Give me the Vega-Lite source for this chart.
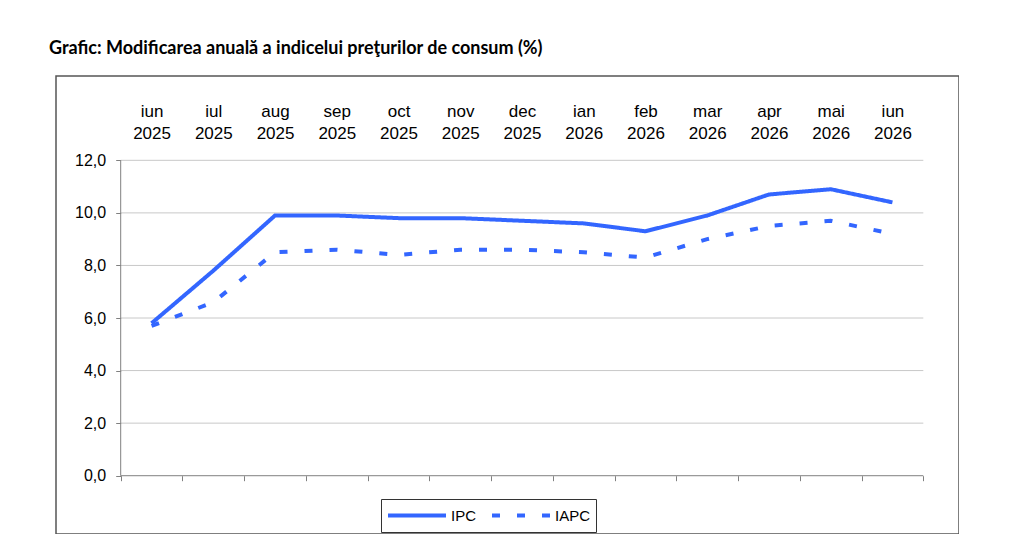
{
  "$schema": "https://vega.github.io/schema/vega-lite/v6.json",
  "width": 903,
  "height": 458,
  "autosize": {"type": "none"},
  "padding": {"left": 56, "top": 76, "right": 0, "bottom": 0},
  "background": "white",
  "config": {
    "view": {"stroke": "#555555", "strokeWidth": 1.5},
    "font": "Liberation Sans",
    "axis": {"labelFont": "Liberation Sans", "labelFontSize": 16, "labelColor": "black", "title": null, "grid": false}
  },
  "title": {
    "text": "Grafic: Modificarea anuală a indicelui preţurilor de consum (%)",
    "anchor": "start",
    "frame": "group",
    "font": "Lato",
    "fontSize": 18,
    "fontWeight": "bold",
    "color": "black",
    "dx": -7,
    "baseline": "alphabetic",
    "offset": 4
  },
  "layer": [
    {
      "data": {"values": [{"g": 0}, {"g": 2}, {"g": 4}, {"g": 6}, {"g": 8}, {"g": 10}, {"g": 12}]},
      "mark": {"type": "rule", "strokeWidth": 1},
      "encoding": {
        "y": {
          "field": "g", "type": "quantitative",
          "scale": {"domain": [-2.218, 15.208], "nice": false, "zero": false},
          "axis": {
            "orient": "left", "values": [0, 2, 4, 6, 8, 10, 12], "offset": -64.7,
            "domain": false, "ticks": true, "tickSize": 5, "tickColor": "#808080",
            "labelPadding": 10, "labelExpr": "replace(format(datum.value, '.1f'), '.', ',')"
          }
        },
        "x": {
          "datum": -0.5, "type": "quantitative",
          "scale": {"domain": [-1.548, 13.078], "nice": false, "zero": false},
          "axis": {
            "orient": "bottom", "values": [-0.5, 0.5, 1.5, 2.5, 3.5, 4.5, 5.5, 6.5, 7.5, 8.5, 9.5, 10.5, 11.5, 12.5],
            "offset": -58.3, "domain": false, "labels": false, "ticks": true, "tickSize": 5, "tickColor": "#808080"
          }
        },
        "x2": {"datum": 12.5},
        "color": {"condition": {"test": "datum.g === 0", "value": "#808080"}, "value": "#c8c8c8"}
      }
    },
    {
      "data": {"values": [{}]},
      "mark": {"type": "rule", "color": "#808080", "strokeWidth": 1},
      "encoding": {
        "x": {"datum": -0.5, "type": "quantitative", "scale": {"domain": [-1.548, 13.078], "nice": false, "zero": false}, "axis": null},
        "y": {"datum": 0, "type": "quantitative", "scale": {"domain": [-2.218, 15.208], "nice": false, "zero": false}, "axis": null},
        "y2": {"datum": 12}
      }
    },
    {
      "data": {
        "values": [
          {"luna": "iun 2025", "i": 0, "serie": "IPC", "v": 5.8},
          {"luna": "iul 2025", "i": 1, "serie": "IPC", "v": 7.8},
          {"luna": "aug 2025", "i": 2, "serie": "IPC", "v": 9.9},
          {"luna": "sep 2025", "i": 3, "serie": "IPC", "v": 9.9},
          {"luna": "oct 2025", "i": 4, "serie": "IPC", "v": 9.8},
          {"luna": "nov 2025", "i": 5, "serie": "IPC", "v": 9.8},
          {"luna": "dec 2025", "i": 6, "serie": "IPC", "v": 9.7},
          {"luna": "ian 2026", "i": 7, "serie": "IPC", "v": 9.6},
          {"luna": "feb 2026", "i": 8, "serie": "IPC", "v": 9.3},
          {"luna": "mar 2026", "i": 9, "serie": "IPC", "v": 9.9},
          {"luna": "apr 2026", "i": 10, "serie": "IPC", "v": 10.7},
          {"luna": "mai 2026", "i": 11, "serie": "IPC", "v": 10.9},
          {"luna": "iun 2026", "i": 12, "serie": "IPC", "v": 10.4},
          {"luna": "iun 2025", "i": 0, "serie": "IAPC", "v": 5.7},
          {"luna": "iul 2025", "i": 1, "serie": "IAPC", "v": 6.6},
          {"luna": "aug 2025", "i": 2, "serie": "IAPC", "v": 8.5},
          {"luna": "sep 2025", "i": 3, "serie": "IAPC", "v": 8.6},
          {"luna": "oct 2025", "i": 4, "serie": "IAPC", "v": 8.4},
          {"luna": "nov 2025", "i": 5, "serie": "IAPC", "v": 8.6},
          {"luna": "dec 2025", "i": 6, "serie": "IAPC", "v": 8.6},
          {"luna": "ian 2026", "i": 7, "serie": "IAPC", "v": 8.5},
          {"luna": "feb 2026", "i": 8, "serie": "IAPC", "v": 8.3},
          {"luna": "mar 2026", "i": 9, "serie": "IAPC", "v": 9.0},
          {"luna": "apr 2026", "i": 10, "serie": "IAPC", "v": 9.5},
          {"luna": "mai 2026", "i": 11, "serie": "IAPC", "v": 9.7},
          {"luna": "iun 2026", "i": 12, "serie": "IAPC", "v": 9.2}
        ]
      },
      "mark": {"type": "line", "strokeWidth": 4, "color": "#3366ff", "strokeCap": "butt"},
      "encoding": {
        "x": {
          "field": "i", "type": "quantitative",
          "scale": {"domain": [-1.548, 13.078], "nice": false, "zero": false},
          "axis": {
            "orient": "top", "values": [0, 1, 2, 3, 4, 5, 6, 7, 8, 9, 10, 11, 12],
            "labelExpr": "split(['iun 2025','iul 2025','aug 2025','sep 2025','oct 2025','nov 2025','dec 2025','ian 2026','feb 2026','mar 2026','apr 2026','mai 2026','iun 2026'][datum.value], ' ')",
            "ticks": false, "tickSize": 0, "domain": false, "labelPadding": 0, "offset": -40.5,
            "labelFontSize": 17, "labelBaseline": "alphabetic", "labelLineHeight": 21.5,
            "labelOverlap": false, "labelBound": false, "labelFlush": false
          }
        },
        "y": {"field": "v", "type": "quantitative", "scale": {"domain": [-2.218, 15.208], "nice": false, "zero": false}, "axis": null},
        "strokeDash": {
          "field": "serie", "type": "nominal",
          "scale": {"domain": ["IPC", "IAPC"], "range": [[1, 0], [8, 17]]},
          "legend": {
            "orient": "none", "legendX": 325, "legendY": 423, "direction": "horizontal", "title": null,
            "strokeColor": "#333333", "fillColor": "white", "padding": 5, "clipHeight": 23,
            "symbolType": "stroke", "symbolSize": 3364, "symbolStrokeWidth": 4, "symbolStrokeColor": "#3366ff",
            "labelFont": "Liberation Sans", "labelFontSize": 15, "labelColor": "black", "labelOffset": 3, "columnPadding": 13
          }
        }
      }
    }
  ],
  "resolve": {"axis": {"x": "independent", "y": "independent"}}
}
